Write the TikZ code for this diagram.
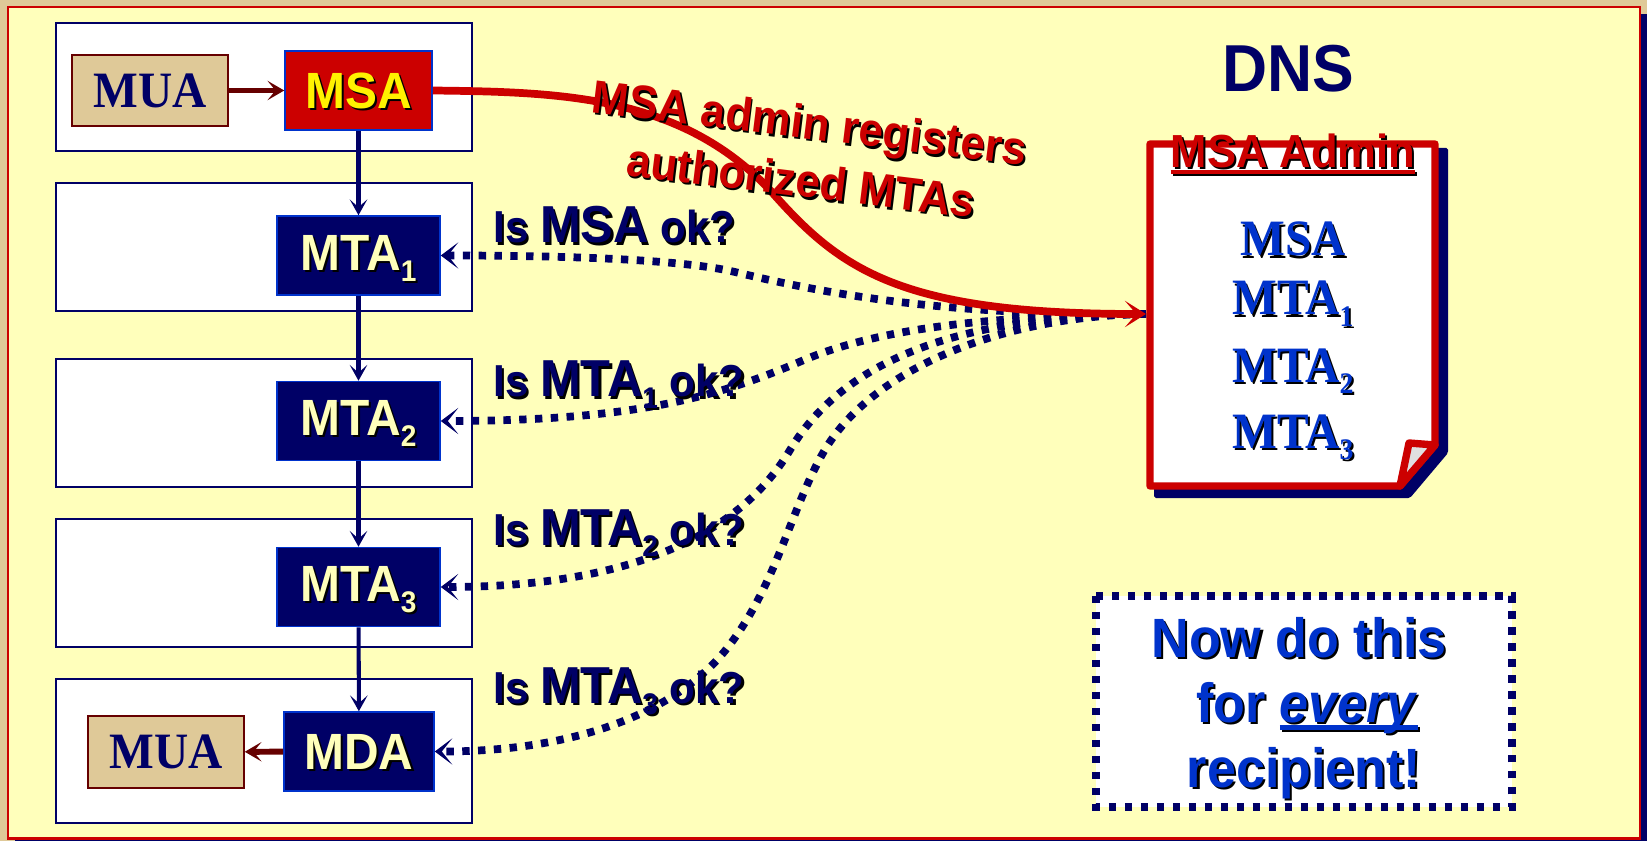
\documentclass[tikz,border=0pt]{standalone}
\usepackage{fontspec}
\setmainfont{Liberation Sans}[FakeStretch=0.94]
\newfontfamily\timesfont{Liberation Serif}[FakeStretch=0.93]
\usepackage{xcolor}
\usepackage{tikz}
\usetikzlibrary{arrows.meta,positioning}
\definecolor{slide}{HTML}{FFFFBB}
\definecolor{tan}{HTML}{DFC998}
\definecolor{navy}{HTML}{000066}
\definecolor{brick}{HTML}{CC0000}
\definecolor{maroon}{HTML}{660000}
\definecolor{royal}{HTML}{0033CC}
\newcommand{\shadowed}[2]{\rlap{\kern1.2pt\raisebox{-1.2pt}{\color{black}#2}}{\color{#1}#2}}
\newcommand{\lowsub}[1]{\raisebox{-.22em}{\fontsize{17}{17}\selectfont #1}}
\newcommand{\barred}[1]{\setbox0\hbox{#1}\rlap{\raisebox{-.14em}{\rule{\wd0}{.08em}}}\box0}
\tikzset{
  frame/.style={draw=navy,fill=white,line width=1.2pt,minimum width=8.32cm,minimum height=2.56cm,inner sep=0pt},
  mtabox/.style={draw=royal,fill=navy,line width=.9pt,minimum width=3.26cm,minimum height=1.58cm,inner sep=0pt,text height=20pt,text depth=0pt,font=\fontsize{29}{30}\selectfont\bfseries},
  muabox/.style={draw=maroon,fill=tan,line width=.9pt,minimum width=3.12cm,minimum height=1.43cm,inner sep=0pt,text=navy,font=\fontsize{29}{30}\selectfont\timesfont\bfseries},
  hop/.style={navy,line width=2.3pt,-{Stealth[length=9pt,width=10pt,inset=4.5pt]}},
  handoff/.style={maroon,line width=3.4pt,-{Stealth[length=9.5pt,width=11pt,inset=4.5pt]}},
  query/.style={navy,line width=4.4pt,dash pattern=on 4.2pt off 4.8pt,-{Stealth[length=10pt,width=15pt,inset=6pt]}},
  register/.style={brick,line width=4.4pt,-{Stealth[length=12pt,width=15pt,inset=6.5pt]}},
  asklabel/.style={anchor=base west,inner sep=0pt,font=\fontsize{25.5}{26}\selectfont\bfseries},
  redlabel/.style={inner sep=0pt,rotate=-7,font=\fontsize{26.6}{27}\selectfont\bfseries},
  listlabel/.style={inner sep=0pt,anchor=base,font=\fontsize{29}{30}\selectfont\timesfont\bfseries},
  donelabel/.style={inner sep=0pt,anchor=base,font=\fontsize{31.5}{32}\selectfont\bfseries}
}
\begin{document}
\begin{tikzpicture}[x=0.02cm,y=-0.02cm]
  \useasboundingbox (0,0) rectangle (1647,841);
  % slide background
  \fill[tan] (0,0) rectangle (1647,841);
  \fill[navy] (15,14) rectangle (1647,841);
  \draw[brick,fill=slide,line width=1.2pt] (8,7) rectangle (1640,838.5);
  % relay frames
  \node[frame] (frameA) at (264,87) {};
  \node[frame] (frameB) at (264,247) {};
  \node[frame] (frameC) at (264,423) {};
  \node[frame] (frameD) at (264,583) {};
  \node[frame,minimum height=2.88cm] (frameE) at (264,751) {};
  % agents
  \node[muabox] (muaA) at (150,90.5) {MUA};
  \node[mtabox,fill=brick,minimum width=2.94cm] (msa) at (358.5,90.5) {\shadowed{yellow}{MSA}};
  \foreach \n/\y in {1/255.5,2/421,3/587}{
    \node[mtabox,text depth=3.3pt] (mta\n) at (358.5,\y) {\shadowed{slide}{MTA\lowsub{\n}}};
  }
  \node[mtabox,minimum width=3cm] (mda) at (359,751.5) {\shadowed{slide}{MDA}};
  \node[muabox] (muaB) at (166,752) {MUA};
  % mail path
  \draw[handoff] (muaA) -- (msa);
  \draw[hop] (msa) -- (mta1);
  \draw[hop] (mta1) -- (mta2);
  \draw[hop] (mta2) -- (mta3);
  \draw[hop] (mta3) -- (mda);
  \draw[handoff] (mda) -- (muaB);
  % lookups
  \coordinate (admin) at (1146,314);
  \draw[query] (admin) .. controls (950,316) and (830,295) .. (735,272)
    .. controls (680,259) and (560,255.5) .. (mta1.east);
  \draw[query] (admin) .. controls (1000,316) and (880,326) .. (797,363)
    .. controls (720,395) and (640,421) .. (mta2.east);
  \draw[query] (admin) .. controls (980,316) and (850,350) .. (790,450)
    .. controls (750,517) and (660,587) .. (mta3.east);
  \draw[query] (admin) .. controls (1000,316) and (870,370) .. (823,453)
    .. controls (790,511) and (775,590) .. (724,652)
    .. controls (680,705) and (590,751.5) .. (mda.east);
  % registration
  \draw[register] (msa.east) .. controls (560,92) and (680,95) .. (770,190)
    .. controls (840,270) and (900,314) .. (admin);
  % question labels
  \node[asklabel] (askA) at (493,243) {\shadowed{navy}{Is {\fontsize{29.6}{30}\selectfont MSA} ok?}};
  \node[asklabel] (askB) at (493,397) {\shadowed{navy}{Is {\fontsize{29.6}{30}\selectfont MTA\lowsub{1}} ok?}};
  \node[asklabel] (askC) at (493,545) {\shadowed{navy}{Is {\fontsize{29.6}{30}\selectfont MTA\lowsub{2}} ok?}};
  \node[asklabel] (askD) at (493,703) {\shadowed{navy}{Is {\fontsize{29.6}{30}\selectfont MTA\lowsub{3}} ok?}};
  \node[redlabel] (regA) at (809,128) {\shadowed{brick}{MSA admin registers}};
  \node[redlabel] (regB) at (801,181) {\shadowed{brick}{authorized MTAs}};
  % DNS record page
  \node[inner sep=0pt,font=\fontsize{37.8}{38}\selectfont\bfseries,text=navy] (dns) at (1288,69) {DNS};
  \fill[navy,rounded corners=1pt] (1154,148) -- (1448,148) -- (1448,453) -- (1410,498) -- (1154,498) -- cycle;
  \draw[brick,fill=white,line width=4.2pt,line join=round] (1150,144) -- (1435,144) -- (1435,445) -- (1400,486) -- (1150,486) -- cycle;
  \draw[brick,fill=black!12,line width=4.2pt,line join=round] (1400,486) -- (1409,443) -- (1435,445) -- cycle;
  \node[inner sep=0pt,font=\fontsize{26.4}{27}\selectfont\bfseries] (adminhead) at (1293,155) {\shadowed{brick}{\barred{MSA Admin}}};
  \node[listlabel] (listA) at (1293,256) {\shadowed{royal}{MSA}};
  \foreach \n/\y in {1/315,2/382,3/448}{
    \node[listlabel] (list\n) at (1293,\y) {\shadowed{royal}{MTA\lowsub{\n}}};
  }
  % reminder box
  \draw[navy,fill=white,line width=4.2pt,dash pattern=on 4.2pt off 4.9pt] (1096,596) rectangle (1512,807);
  \node[donelabel] (doneA) at (1299,657) {\shadowed{royal}{Now do this}};
  \node[donelabel] (doneB) at (1307,722) {\shadowed{royal}{for \barred{\textit{every}}}};
  \node[donelabel] (doneC) at (1304,787) {\shadowed{royal}{recipient!}};
\end{tikzpicture}
\end{document}
